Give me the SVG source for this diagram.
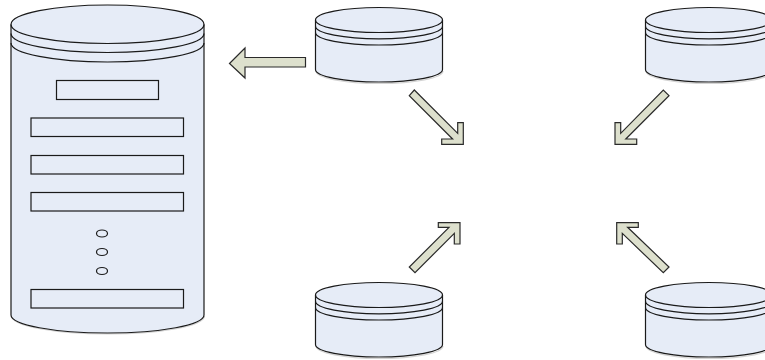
<svg xmlns="http://www.w3.org/2000/svg" width="765" height="360" viewBox="0 0 765 360">
<style>
.b{fill:#e6ecf7;stroke:#1a1a1a;stroke-width:1.2}
.l{fill:none;stroke:#1a1a1a;stroke-width:1.2}
.s{fill:none;stroke:#d4d4d4;stroke-width:1.2}
.a{fill:#dde0cd;stroke:#2a2a2a;stroke-width:1.2;stroke-linejoin:miter}
</style>
<defs>
<g id="cyl">
<path class="s" d="M1 63.500A63.500 12.500 0 0 0 128 63.500"/>
<path class="b" d="M0.500 12.500V62A63.500 12.500 0 0 0 127.500 62V12.500A63.500 12.500 0 0 0 0.500 12.500Z"/>
<path class="l" d="M0.500 12.500A63.500 12.500 0 0 0 127.500 12.500M0.500 18.800A63.500 12.500 0 0 0 127.500 18.800M0.500 25A63.500 12.500 0 0 0 127.500 25"/>
</g>
</defs>
<g id="server">
<path class="s" d="M11.500 316A96.500 18 0 0 0 204.500 316"/>
<path class="b" d="M11 24.500V315A96.500 18 0 0 0 204 315V24.500A96.500 19.500 0 0 0 11 24.500Z"/>
<path class="l" d="M11 24.500A96.500 19 0 0 0 204 24.500M11 33.500A96.500 19 0 0 0 204 33.500M11 43A96.500 19 0 0 0 204 43"/>
<rect class="b" x="56.500" y="80.500" width="102" height="19"/>
<rect class="b" x="31" y="118" width="152.500" height="18.500"/>
<rect class="b" x="31" y="155.500" width="152.500" height="18.500"/>
<rect class="b" x="31" y="192.500" width="152.500" height="18.500"/>
<ellipse class="b" cx="102" cy="233.500" rx="5.500" ry="3.500"/>
<ellipse class="b" cx="102" cy="252" rx="5.500" ry="3.500"/>
<ellipse class="b" cx="102" cy="271" rx="5.500" ry="3.500"/>
<rect class="b" x="31" y="289.500" width="152.500" height="18.500"/>
</g>
<g id="db-top-left"><use href="#cyl" x="315" y="7.500"/></g>
<g id="db-top-right"><use href="#cyl" x="645" y="7.500"/></g>
<g id="db-bottom-left"><use href="#cyl" x="315" y="282.500"/></g>
<g id="db-bottom-right"><use href="#cyl" x="645" y="282.500"/></g>
<g id="connectors">
<path class="a" d="M229.500 63.500L245 48V57.500H305.500V67H245V78Z"/>
<path class="a" d="M409.300 95.700L414.300 90L457.700 133.400V122.700H463.300V144.300H441.700V139H452.600Z"/>
<path class="a" d="M669 95.700L663.300 90L620.700 133.400V122.700H615V144.300H636.700V139H625.800Z"/>
<path class="a" d="M409.300 267L415 272.700L454.300 233.400V244H460V222.700H438.300V227.300H449Z"/>
<path class="a" d="M669 267L663.300 272.700L622.300 233.400V244H616.700V222.700H638.300V227.300H627.600Z"/>
</g>
</svg>
